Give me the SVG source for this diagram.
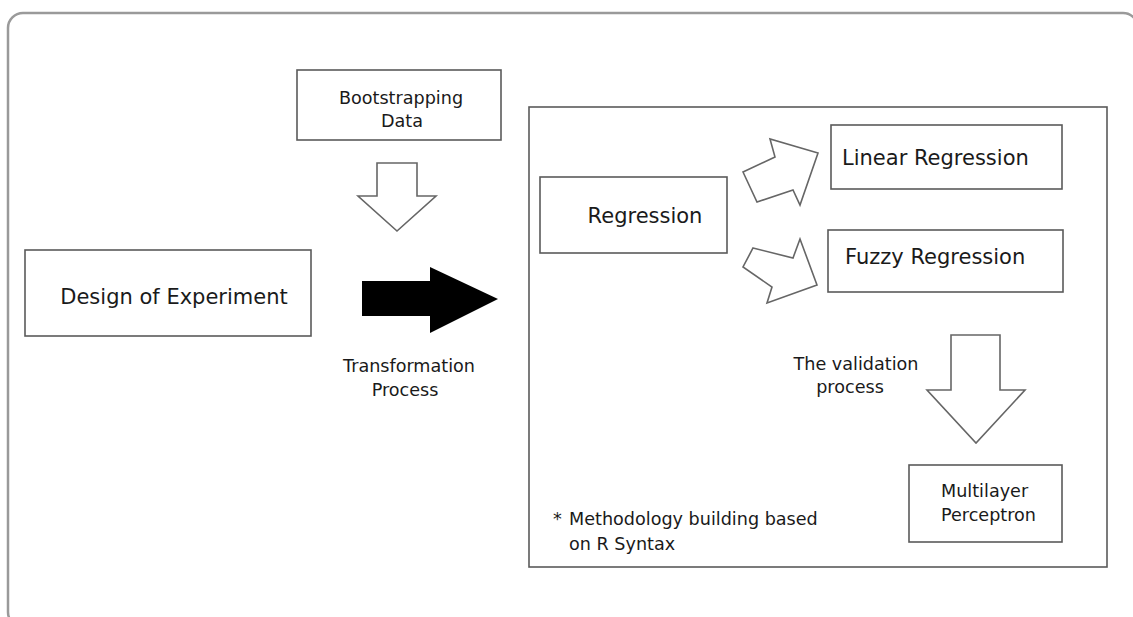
<svg xmlns="http://www.w3.org/2000/svg" width="1133" height="617" viewBox="0 0 1133 617">
  <style>
    .box { fill: #ffffff; stroke: #5a5a5a; stroke-width: 1.6; }
    .frame { fill: none; stroke: #9a9a9a; stroke-width: 2.5; }
    .hollow { fill: #ffffff; stroke: #666666; stroke-width: 1.6; stroke-linejoin: miter; }
    .solid { fill: #000000; stroke: none; }
    .big { font-family: "DejaVu Sans", "Liberation Sans", sans-serif; font-size: 21px; fill: #1a1a1a; }
    .small { font-family: "DejaVu Sans", "Liberation Sans", sans-serif; font-size: 17.6px; fill: #1a1a1a; }
    .mid { text-anchor: middle; }
  </style>
  <rect x="0" y="0" width="1133" height="617" fill="#ffffff"/>
  <rect class="frame" x="8" y="13" width="1130" height="614" rx="15" ry="15"/>

  <g id="container">
    <rect class="box" x="529" y="107" width="578" height="460"/>
    <text class="small" x="553" y="525">*</text>
    <text class="small" x="569" y="525">Methodology building based</text>
    <text class="small" x="569" y="550">on R Syntax</text>
  </g>

  <g id="bootstrapping">
    <rect class="box" x="297" y="70" width="204" height="70"/>
    <text class="small mid" x="401" y="104">Bootstrapping</text>
    <text class="small mid" x="402" y="127">Data</text>
  </g>

  <g id="design">
    <rect class="box" x="25" y="250" width="286" height="86"/>
    <text class="big mid" x="174" y="304">Design of Experiment</text>
  </g>

  <g id="regression">
    <rect class="box" x="540" y="177" width="187" height="76"/>
    <text class="big mid" x="645" y="223">Regression</text>
  </g>

  <g id="linear">
    <rect class="box" x="831" y="125" width="231" height="64"/>
    <text class="big" x="842" y="165">Linear Regression</text>
  </g>

  <g id="fuzzy">
    <rect class="box" x="828" y="230" width="235" height="62"/>
    <text class="big" x="845" y="264">Fuzzy Regression</text>
  </g>

  <g id="mlp">
    <rect class="box" x="909" y="465" width="153" height="77"/>
    <text class="small" x="941" y="497">Multilayer</text>
    <text class="small" x="941" y="521">Perceptron</text>
  </g>

  <g id="connectors">
    <polygon class="hollow" points="377,163 417,163 417,196 436,196 397,231 358,196 377,196"/>
    <polygon class="solid" points="362,281 430,281 430,267 498,299 430,333 430,316 362,316"/>
    <polygon class="hollow" points="743,172 775,157 770,139 818,153 800,205 793,190 757,202"/>
    <polygon class="hollow" points="753,248 793,258 800,239 817,285 767,303 772,287 743,267"/>
    <polygon class="hollow" points="951,335 1000,335 1000,390 1025,390 976,443 927,390 951,390"/>
    <text class="small mid" x="409" y="372">Transformation</text>
    <text class="small mid" x="405" y="396">Process</text>
    <text class="small mid" x="856" y="370">The validation</text>
    <text class="small mid" x="850" y="393">process</text>
  </g>
</svg>
